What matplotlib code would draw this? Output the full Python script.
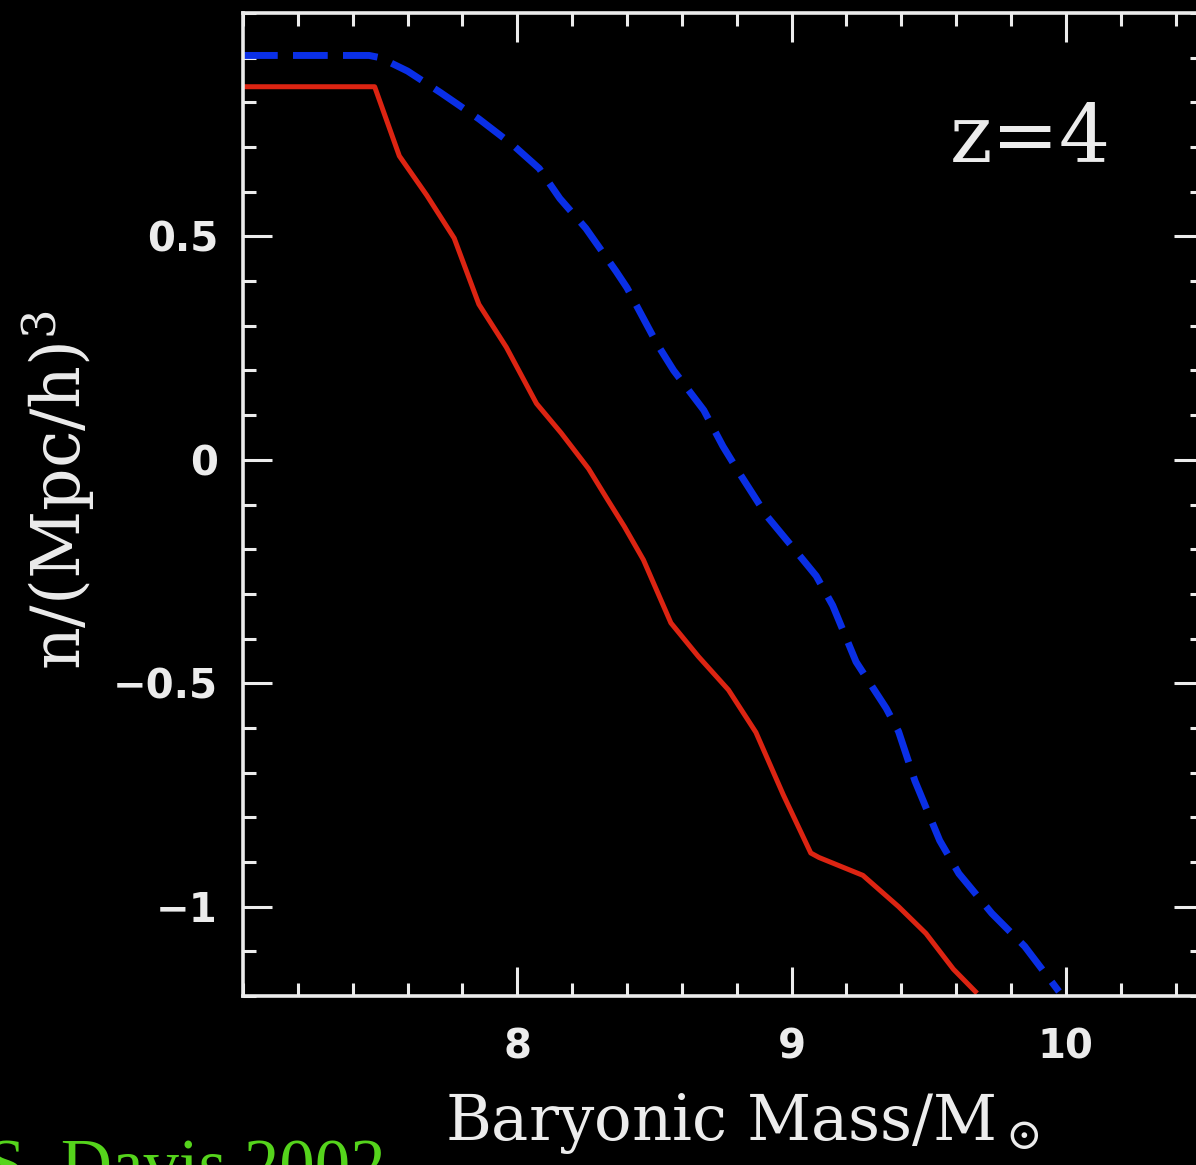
import matplotlib
matplotlib.use('Agg')
import matplotlib.pyplot as plt
from matplotlib.ticker import MultipleLocator

# baryonic mass function at z=4 (log mass vs log n)
red_x = [7.0, 7.48, 7.57, 7.67, 7.77, 7.86, 7.96, 8.07, 8.16, 8.26, 8.33, 8.39,
         8.46, 8.56, 8.66, 8.77, 8.87, 8.97, 9.07, 9.10, 9.26, 9.39, 9.49, 9.59, 9.67]
red_y = [0.835, 0.835, 0.68, 0.592, 0.496, 0.348, 0.252, 0.126, 0.06, -0.02, -0.09, -0.149,
         -0.224, -0.365, -0.44, -0.515, -0.61, -0.75, -0.88, -0.89, -0.93, -1.0, -1.06, -1.14, -1.19]

blue_x = [7.0, 7.46, 7.5, 7.6, 7.72, 7.86, 7.985, 8.08, 8.155, 8.25, 8.36, 8.40, 8.51,
          8.57, 8.68, 8.75, 8.81, 8.91, 9.03, 9.09, 9.15, 9.235, 9.345, 9.39, 9.45,
          9.54, 9.61, 9.73, 9.85, 9.975]
blue_y = [0.905, 0.905, 0.9, 0.87, 0.822, 0.763, 0.704, 0.652, 0.585, 0.518, 0.422, 0.385, 0.259,
          0.2, 0.111, 0.03, -0.03, -0.126, -0.215, -0.26, -0.326, -0.452, -0.556, -0.608, -0.719,
          -0.852, -0.926, -1.015, -1.089, -1.19]

xticks = [8, 9, 10]
yticks = [-1, -0.5, 0, 0.5]
ytick_labels = ['\u22121', '\u22120.5', '0', '0.5']

plt.rcParams['mathtext.fontset'] = 'dejavuserif'
fg = '#ececec'

fig = plt.figure(figsize=(11.96, 11.65), dpi=100, facecolor='black')
# right edge of the frame sits just outside the picture
ax = fig.add_axes([243/1196, 1 - 996/1165, (1203 - 243)/1196, (996 - 13)/1165])
ax.set_facecolor('black')

ax.plot(red_x, red_y, color='#dc2412', lw=3.6, solid_joinstyle='round')
ax.plot(blue_x, blue_y, color='#0a2fe6', lw=5, ls=(0, (5.0, 2.2)), dash_capstyle='butt')

ax.set_xlim(7.0, 10.5)
ax.set_ylim(-1.2, 1.0)

ax.xaxis.set_major_locator(MultipleLocator(1))
ax.xaxis.set_minor_locator(MultipleLocator(0.2))
ax.yaxis.set_major_locator(MultipleLocator(0.5))
ax.yaxis.set_minor_locator(MultipleLocator(0.1))
ax.set_xticks(xticks)
ax.set_yticks(yticks)
ax.set_yticklabels(ytick_labels)

for s in ax.spines.values():
    s.set_color(fg)
    s.set_linewidth(2.6)

ax.tick_params(which='both', direction='in', top=True, right=True, colors=fg, width=2.2)
ax.tick_params(which='major', length=21)
ax.tick_params(which='minor', length=9.5)
ax.tick_params(axis='x', which='major', pad=23, labelsize=29, labelcolor=fg)
ax.tick_params(axis='y', which='major', pad=18, labelsize=29, labelcolor=fg)
for lab in ax.get_xticklabels() + ax.get_yticklabels():
    lab.set_fontweight('semibold')

ax.text(0.82, 0.848, 'z=4', transform=ax.transAxes, color=fg, fontsize=58,
        family='DejaVu Serif', ha='center', va='baseline')

fig.text(742/1196, 1 - 1124/1165, r'Baryonic Mass/M$_\odot$', color=fg, fontsize=45,
         family='DejaVu Serif', ha='center', va='center')
fig.text(58/1196, 1 - 490/1165, r'n/(Mpc/h)$^3$', color=fg, fontsize=48,
         family='DejaVu Serif', ha='center', va='center', rotation=90)
fig.text(-14/1196, 1 - 1138/1165, 'S. Davis 2002', color='#55d41c', fontsize=51,
         family='Liberation Serif', ha='left', va='top')

fig.savefig('out.png', dpi=100, facecolor='black')
